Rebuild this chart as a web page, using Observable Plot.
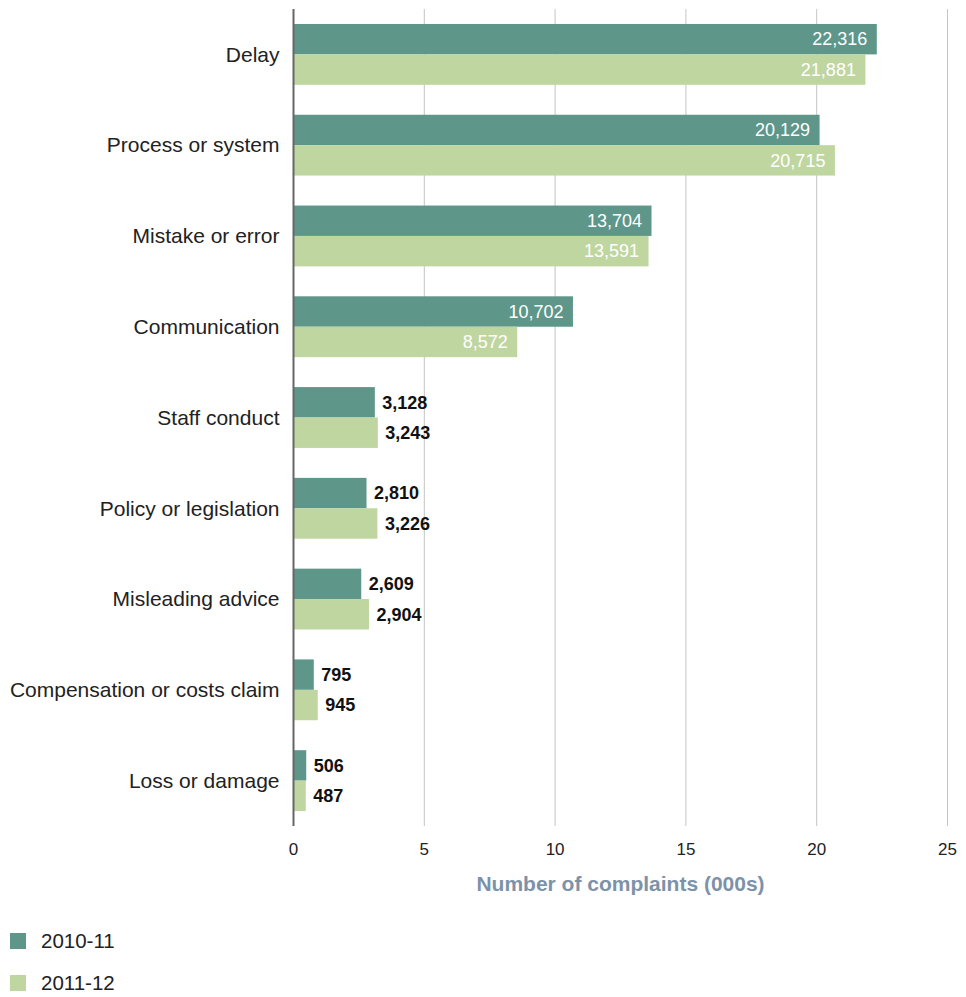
<!DOCTYPE html>
<html>
<head>
<meta charset="utf-8">
<script src="https://cdn.jsdelivr.net/npm/d3@7"></script>
<script src="https://cdn.jsdelivr.net/npm/@observablehq/plot@0.6"></script>
<style>
  body { margin: 0; background: #fff; font-family: "Liberation Sans", Arial, sans-serif; }
  #legend { position: relative; height: 92px; }
  .item { position: absolute; left: 10px; display: flex; align-items: center; font-size: 20.5px; color: #222; }
  .sw { width: 16px; height: 16px; margin-right: 15px; }
</style>
</head>
<body>
<div id="chart"></div>
<div id="legend"></div>
<script>
const categories = ["Delay", "Process or system", "Mistake or error", "Communication", "Staff conduct", "Policy or legislation", "Misleading advice", "Compensation or costs claim", "Loss or damage"];
const series = ["2010-11", "2011-12"];
const values2010 = [22316, 20129, 13704, 10702, 3128, 2810, 2609, 795, 506];
const values2011 = [21881, 20715, 13591, 8572, 3243, 3226, 2904, 945, 487];
const xTicks = [0, 5, 10, 15, 20, 25];
const colors = ["#5e968a", "#bfd6a0"];
const xLabel = "Number of complaints (000s)";

const d2010 = categories.map((c, i) => ({cat: c, v: values2010[i] / 1000, raw: values2010[i]}));
const d2011 = categories.map((c, i) => ({cat: c, v: values2011[i] / 1000, raw: values2011[i]}));
const fmt = d => d3.format(",")(d.raw);
const inside = d => d.v > 5;
const outside = d => !inside(d);
const half = 30.4;
const off = 15.2;

const chart = Plot.plot({
  width: 966,
  height: 905,
  marginLeft: 293,
  marginRight: 19,
  marginTop: 9,
  marginBottom: 79,
  style: {fontFamily: "Liberation Sans, Arial, sans-serif", fontSize: "17px", color: "#222", background: "#fff"},
  x: {domain: [0, 25], ticks: xTicks, tickSize: 0, tickPadding: 16, label: null, tickFormat: d => String(d)},
  y: {domain: categories, paddingInner: 0.33, paddingOuter: 0.165, round: false, tickSize: 0, tickPadding: 14, label: null},
  marks: [
    Plot.gridX(xTicks.slice(1), {stroke: "#c4c4c4", strokeOpacity: 1, strokeWidth: 1}),
    Plot.barX(d2010, {x: "v", y: "cat", fill: colors[0], insetBottom: half}),
    Plot.barX(d2011, {x: "v", y: "cat", fill: colors[1], insetTop: half}),
    Plot.ruleX([0], {stroke: "#666", strokeWidth: 2}),
    Plot.text(d2010.filter(inside), {x: "v", y: "cat", text: fmt, dy: -off, dx: -10, textAnchor: "end", fill: "white", fontSize: 18}),
    Plot.text(d2011.filter(inside), {x: "v", y: "cat", text: fmt, dy: off, dx: -10, textAnchor: "end", fill: "white", fontSize: 18}),
    Plot.text(d2010.filter(outside), {x: "v", y: "cat", text: fmt, dy: -off, dx: 7, textAnchor: "start", fill: "#111", fontSize: 18, fontWeight: "bold"}),
    Plot.text(d2011.filter(outside), {x: "v", y: "cat", text: fmt, dy: off, dx: 7, textAnchor: "start", fill: "#111", fontSize: 18, fontWeight: "bold"}),
    Plot.text([xLabel], {frameAnchor: "bottom", text: d => d, dy: 64, fill: "#7d92a8", fontSize: 21, fontWeight: "bold"})
  ]
});
d3.select(chart).selectAll('g[aria-label="y-axis tick label"]').attr("font-size", "21px");
d3.select(chart).selectAll('g[aria-label="y-axis tick label"] text').style("font-size", "21px");
document.getElementById("chart").appendChild(chart);

const legend = document.getElementById("legend");
series.forEach((s, i) => {
  const item = document.createElement("div");
  item.className = "item";
  item.style.top = (24 + i * 42) + "px";
  const sw = document.createElement("div");
  sw.className = "sw";
  sw.style.background = colors[i];
  const t = document.createElement("span");
  t.textContent = s;
  item.appendChild(sw);
  item.appendChild(t);
  legend.appendChild(item);
});
</script>
</body>
</html>
